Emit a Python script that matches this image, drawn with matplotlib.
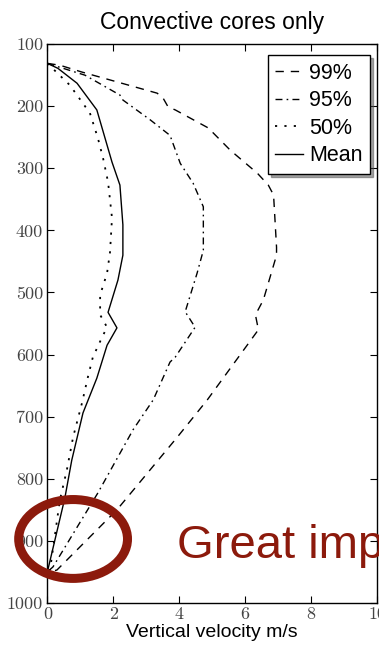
import matplotlib
matplotlib.use("Agg")
import matplotlib.pyplot as plt
from matplotlib.patches import Ellipse

# pressure (hPa) / vertical velocity (m/s)
p_99 = [131, 134, 145, 179, 187, 201, 206, 235, 271, 308, 327, 343, 427, 440, 512, 536, 560, 673, 733, 850, 947, 950]
v_99 = [0.0, 0.38, 1.05, 3.33, 3.51, 3.66, 3.88, 4.88, 5.55, 6.37, 6.70, 6.86, 6.95, 6.95, 6.55, 6.31, 6.40, 4.85, 3.94, 2.11, 0.29, 0.08]

p_95 = [131, 150, 182, 190, 222, 247, 292, 324, 362, 432, 469, 531, 556, 604, 612, 673, 721, 823, 942, 950]
v_95 = [0.0, 1.14, 2.20, 2.29, 3.12, 3.72, 4.03, 4.42, 4.73, 4.73, 4.54, 4.18, 4.48, 3.88, 3.72, 3.21, 2.60, 1.53, 0.17, 0.0]

p_50 = [131, 166, 211, 251, 284, 322, 380, 435, 469, 504, 536, 556, 572, 604, 636, 678, 733, 786, 834, 947]
v_50 = [0.0, 0.68, 1.29, 1.53, 1.69, 1.84, 1.96, 1.90, 1.81, 1.60, 1.60, 1.81, 1.66, 1.38, 1.23, 1.05, 0.78, 0.59, 0.38, 0.08]

p_mean = [131, 139, 163, 206, 290, 327, 391, 440, 480, 532, 557, 585, 638, 694, 770, 831, 950]
v_mean = [0.0, 0.32, 0.90, 1.50, 1.96, 2.20, 2.29, 2.29, 2.14, 1.84, 2.11, 1.81, 1.50, 1.08, 0.74, 0.53, 0.0]

x_ticks = [0, 2, 4, 6, 8, 10]
y_ticks = [100, 200, 300, 400, 500, 600, 700, 800, 900, 1000]

red = "#8c1a0c"

fig = plt.figure(figsize=(3.79, 6.49), dpi=100)
ax = fig.add_axes([0.125, 0.071, 0.870, 0.861])

ax.plot(v_99, p_99, color="k", lw=1.0, dashes=(6, 5), label="99%")
ax.plot(v_95, p_95, color="k", lw=1.0, dashes=(5, 3, 1.2, 3), label="95%")
ax.plot(v_50, p_50, color="k", lw=1.3, dashes=(1.2, 4), label="50%")
ax.plot(v_mean, p_mean, color="k", lw=1.0, label="Mean")

ax.set_xlim(0, 10)
ax.set_ylim(1000, 100)
ax.set_xticks(x_ticks)
ax.set_yticks(y_ticks)
ax.tick_params(direction="in", length=5, top=True, right=True, labelsize=13, pad=3)
for lab in ax.get_xticklabels() + ax.get_yticklabels():
    lab.set_fontfamily("cmr10")
    lab.set_color("#444444")
for s in ax.spines.values():
    s.set_linewidth(1.0)

ax.set_title("Convective cores only", fontsize=16.5, family="Liberation Sans", pad=11)
ax.set_xlabel("Vertical velocity m/s", fontsize=14, family="Liberation Sans", labelpad=1)

leg = ax.legend(loc="upper right", bbox_to_anchor=(0.978, 0.98), borderaxespad=0,
                handlelength=1.3, handletextpad=0.25, borderpad=0.35, labelspacing=0.3,
                fancybox=False, shadow=True, framealpha=1, edgecolor="k",
                prop={"family": "Liberation Sans", "size": 15.5})
leg.get_frame().set_linewidth(1.0)

# red annotation
ell = Ellipse((0.78, 897), width=3.3, height=127, fill=False, edgecolor=red,
              lw=6.5, clip_on=False, zorder=5)
ax.add_patch(ell)
ax.text(3.94, 928, "Great imp", color=red, fontsize=34, family="Liberation Sans",
        va="baseline", ha="left", clip_on=False)

fig.savefig("out.png", dpi=100)
